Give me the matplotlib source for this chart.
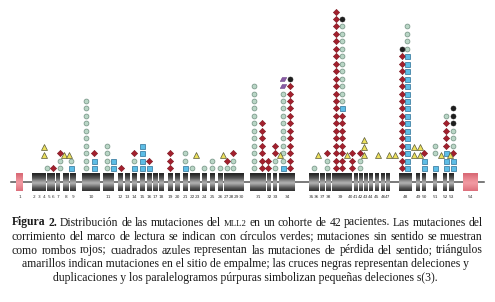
import numpy as np
import matplotlib
matplotlib.use('Agg')
import matplotlib.pyplot as plt
from matplotlib.colors import LinearSegmentedColormap

# exon numbering, centre and width along the gene schematic
exon_num = list(range(1, 55))
exon_pos = [19.5, 34, 39, 44, 48.5, 53, 57.5, 66, 73, 91,
            108.5, 120, 127, 134, 142, 149, 155, 161, 170, 177,
            185, 192, 197, 204, 212, 220, 226, 231, 236, 241,
            258, 269, 275, 287, 311, 316, 322, 328, 340, 350,
            355.5, 360.5, 365.5, 371, 377, 383, 388, 405, 418, 424,
            435, 445, 451, 470]
exon_w = ([7, 5, 5, 4, 4, 4, 4, 6, 6, 18, 11] + [5] * 19 +
          [16, 4, 4, 16, 5, 5, 5, 5, 16] + [3.5] * 8 +
          [13, 4, 4, 4, 4, 5, 15])

# mutation columns: position and stack of symbols from the gene upward
# c=frameshift r=nonsense b=missense t=splice k=del/dup p=small del .=empty
mut_x = [44, 47, 53, 60, 64, 69, 71, 86, 94, 107, 113, 121, 134, 142, 149,
         170, 185, 192, 196, 204, 212, 220, 223, 227, 233,
         254, 262, 268, 275, 280, 283, 290,
         314, 318, 327, 336, 342, 347, 352, 360, 364, 378, 389, 395,
         402, 407, 414, 420, 424, 435, 441, 446, 450, 453]
mut_stack = ["..tt", "c", "r", "ccr", "..t", "..t", "bc", "c" * 10, "bbr", "cccc", "bb", "r", "bcr", "bbbb", "br",
             "rrr", "bcc", "c", "..t", "c", "cc", "c", "..t", "cr", "ccr",
             "c" * 12, "r" * 7, "rr", "ccrr", "..t", "b" + "c" * 10 + "pp", "r" * 12 + "k",
             "c", "..t", "ccr", "r" * 22, "r" * 8 + "b" + "c" * 11 + "k", "..t", "rrr", "ccr", "..ttt", "..t", "..t", "..t",
             "r" * 16 + "k", "b" * 16 + "cccc", "..tt", "..tt", "bbr", "b.cc", "..t", "bbbrrrrc", "..t", "bbrccckkk"]

caption_just = [
    "Figura 2. Distribución de las mutaciones del MLL2 en un cohorte de 42 pacientes. Las mutaciones del",
    "corrimiento del marco de lectura se indican con círculos verdes; mutaciones sin sentido se muestran",
    "como rombos rojos; cuadrados azules representan las mutaciones de pérdida del sentido; triángulos",
]
caption_center = [
    "amarillos indican mutaciones en el sitio de empalme; las cruces negras representan deleciones y",
    "duplicaciones y los paralelogramos púrpuras simbolizan pequeñas deleciones s(3).",
]

parallelogram = [(-1, -0.6), (0.35, -0.6), (1, 0.6), (-0.35, 0.6), (-1, -0.6)]
styles = {
    'c': dict(marker='o', ms=3.5, mfc='#b9d6c6', mec='#6f8f80', mew=0.5),
    'r': dict(marker='D', ms=3.2, mfc='#a3202d', mec='#7a1520', mew=0.4),
    'b': dict(marker='s', ms=3.6, mfc='#5dbde6', mec='#2b6f95', mew=0.5),
    't': dict(marker='^', ms=4.2, mfc='#ece05c', mec='#5a5a3a', mew=0.5),
    'k': dict(marker='o', ms=3.6, mfc='#1e1e1e', mec='#1e1e1e', mew=0.4),
    'p': dict(marker=parallelogram, ms=4.6, mfc='#8a5ca6', mec='#6a4085', mew=0.4),
}

fig = plt.figure(figsize=(4.95, 3.02), dpi=100)
ax = fig.add_axes([0, 0, 1, 1])
ax.set_xlim(0, 495)
ax.set_ylim(302, 0)
ax.axis('off')

# gene backbone
line_y = 182
ax.plot([11, 484], [line_y, line_y], color='#555555', lw=1.1, zorder=1)

top, bot = 173, 191
t = np.linspace(0, 1, 40)
grad = (1 - np.abs(2 * t - 1.1) ** 1.2)[:, None]
gray = LinearSegmentedColormap.from_list('g', ['#262626', '#555555', '#b0b0b0'])
pink = LinearSegmentedColormap.from_list('p', ['#d96a76', '#f29aa2'])
for i, (n, xc, w) in enumerate(zip(exon_num, exon_pos, exon_w)):
    cm = pink if n in (1, 54) else gray
    ax.imshow(grad, extent=(xc - w / 2, xc + w / 2, bot, top), cmap=cm, vmin=0, vmax=1,
              aspect='auto', interpolation='bilinear', zorder=2)
    ax.text(xc, 196.5, str(n), fontsize=3.1, ha='center', va='center', color='#333333')

# mutation stacks
base, step = 168, 7.45
pts = {k: ([], []) for k in styles}
for x, s in zip(mut_x, mut_stack):
    for j, code in enumerate(s):
        if code == '.':
            continue
        y = base - j * step + (1.5 if code == 't' else 0)
        pts[code][0].append(x)
        pts[code][1].append(y)
for code, (xs, ys) in pts.items():
    ax.plot(xs, ys, linestyle='none', zorder=3, **styles[code])

ax.set_xlim(0, 495)
ax.set_ylim(302, 0)

# caption
fam = 'Liberation Serif'
fs = 8.4
renderer = fig.canvas.get_renderer()
base_lines = [225.5, 239.5, 253.5, 267.5, 281.5]


def justify(line, y, x0, x1, first):
    items = []
    for k, w in enumerate(line.split()):
        kw = dict(fontsize=fs, family=fam, color='#1a1a1a', va='baseline', ha='left')
        if first and k < 2:
            kw['weight'] = 'bold'
        if w == 'MLL2':
            kw['fontsize'] = fs * 0.75
        items.append(ax.text(0, y, w, **kw))
    widths = [it.get_window_extent(renderer).width for it in items]
    gap = (x1 - x0 - sum(widths)) / (len(items) - 1)
    x = x0
    for it, w in zip(items, widths):
        it.set_x(x)
        x += w + gap


for i, line in enumerate(caption_just):
    justify(line, base_lines[i], 12, 483, i == 0)
for i, line in enumerate(caption_center):
    ax.text(245.5, base_lines[3 + i], line, fontsize=fs, family=fam, color='#1a1a1a',
            va='baseline', ha='center')

fig.savefig('out.png', dpi=100)
